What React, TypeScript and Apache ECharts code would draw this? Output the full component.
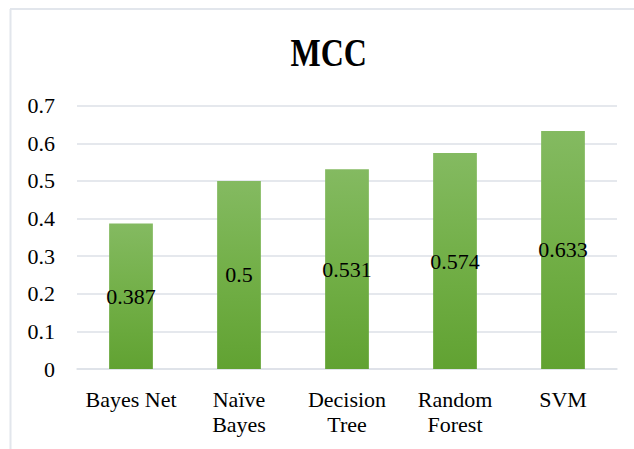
import React, { useEffect, useRef } from "react";
import * as echarts from "echarts";

const categories = ["Bayes Net", "Naïve\nBayes", "Decision\nTree", "Random\nForest", "SVM"];
const mccValues = [0.387, 0.5, 0.531, 0.574, 0.633];
const titleText = "MCC";

export default function App() {
  const ref = useRef<HTMLDivElement>(null);
  useEffect(() => {
    const chart = echarts.init(ref.current!, null, { renderer: "svg" });
    const serif = "'Liberation Serif', 'Times New Roman', serif";
    chart.setOption({
      animation: false,
      backgroundColor: "#ffffff",
      graphic: [
        {
          type: "line",
          shape: { x1: 10.5, y1: 9, x2: 10.5, y2: 449 },
          style: { stroke: "#e2e6ec", lineWidth: 2 },
          silent: true,
        },
        {
          type: "line",
          shape: { x1: 10, y1: 9, x2: 634, y2: 9 },
          style: { stroke: "#e2e6ec", lineWidth: 2 },
          silent: true,
        },
        {
          type: "text",
          x: 328.7,
          y: 53,
          scaleX: 0.8,
          scaleY: 1,
          originX: 0,
          originY: 0,
          style: {
            text: titleText,
            font: "bold 40px " + serif,
            fill: "#000000",
            align: "center",
            verticalAlign: "middle",
          },
        },
      ],
      grid: { left: 77, right: 17, top: 105.7, bottom: 80, containLabel: false },
      xAxis: {
        type: "category",
        data: categories,
        axisLine: { show: true, lineStyle: { color: "#dde1e7", width: 1.5 } },
        axisTick: { show: false },
        axisLabel: {
          fontFamily: serif,
          fontSize: 22,
          color: "#000000",
          margin: 18,
          lineHeight: 25,
          interval: 0,
        },
      },
      yAxis: {
        type: "value",
        min: 0,
        max: 0.7,
        interval: 0.1,
        axisLine: { show: false },
        axisTick: { show: false },
        splitLine: { lineStyle: { color: "#dde1e7", width: 1.5 } },
        axisLabel: {
          fontFamily: serif,
          fontSize: 22,
          color: "#000000",
          margin: 22,
          formatter: (v: number) => (Math.round(v * 10) / 10).toString(),
        },
      },
      series: [
        {
          type: "bar",
          data: mccValues,
          barWidth: "40.5%",
          itemStyle: {
            color: new echarts.graphic.LinearGradient(0, 0, 0, 1, [
              { offset: 0, color: "#84ba61" },
              { offset: 0.5, color: "#72af47" },
              { offset: 1, color: "#61a232" },
            ]),
          },
          label: {
            show: true,
            position: "inside",
            fontFamily: serif,
            fontSize: 22,
            color: "#000000",
            formatter: (p: any) => String(p.value),
          },
        },
      ],
    });
    return () => chart.dispose();
  }, []);
  return (
    <div
      ref={ref}
      style={{ position: "absolute", left: 0, top: 0, width: 634, height: 449 }}
    />
  );
}
